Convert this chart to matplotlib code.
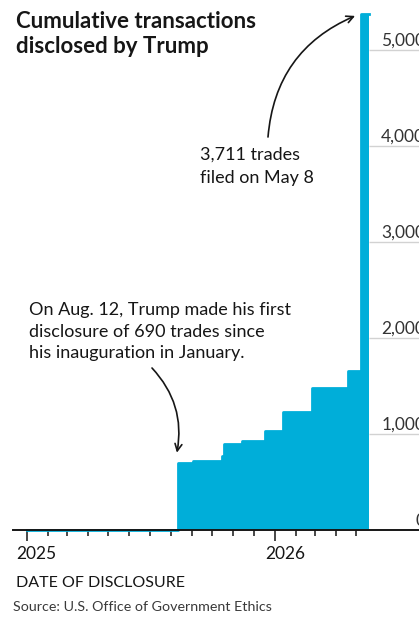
import matplotlib.pyplot as plt
import matplotlib.dates as mdates
import pandas as pd

plt.rcParams['font.family'] = ['Lato', 'DejaVu Sans']

# cumulative count of disclosed transactions, step changes on each filing date
disclosure_dates = pd.to_datetime([
    "2025-01-01", "2025-08-12", "2025-09-02", "2025-10-15", "2025-10-18",
    "2025-11-13", "2025-12-17", "2026-01-13", "2026-02-25", "2026-04-19",
    "2026-05-08",
])
cumulative_trades = [0, 690, 712, 765, 890, 920, 1028, 1220, 1475, 1655, 5366]
data_through = pd.Timestamp("2026-05-19")

y_ticks = [0, 1000, 2000, 3000, 4000, 5000]
y_tick_labels = ["0", "1,000", "2,000", "3,000", "4,000", "5,000"]
year_ticks = pd.to_datetime(["2025-01-01", "2026-01-01"])
year_labels = ["2025", "2026"]
month_ticks = pd.date_range("2025-01-01", "2026-05-01", freq="MS")

blue = "#00aed9"
ink = "#161616"

W, H = 419, 623
fig = plt.figure(figsize=(W / 100, H / 100), dpi=100)
base_px = 529.5
ax = fig.add_axes([13 / W, (H - base_px) / H, 406 / W, base_px / H])

# step area
xs = list(disclosure_dates) + [data_through]
ys = cumulative_trades + [cumulative_trades[-1]]
ax.fill_between(xs, ys, step="post", color=blue, lw=0, zorder=2)
ax.step(xs, ys, where="post", color=blue, lw=2, zorder=2, clip_on=False)

x0 = mdates.date2num(pd.Timestamp("2024-12-12"))
ax.set_xlim(x0, x0 + 597)
ax.set_ylim(0, base_px / 0.096)

# gridlines only to the right of the data
ax.hlines(y_ticks[1:], mdates.date2num(data_through), x0 + 597,
          color="#d2d2d2", lw=1, zorder=0)

for s in ["top", "left", "right"]:
    ax.spines[s].set_visible(False)
ax.spines["bottom"].set_linewidth(1.4)
ax.spines["bottom"].set_color(ink)
ax.spines["bottom"].set_zorder(3)

ax.set_yticks([])
ax.set_xticks(year_ticks)
ax.set_xticklabels([])
ax.set_xticks(month_ticks, minor=True)
ax.tick_params(axis="x", which="major", direction="out", length=8, width=1.1, color=ink)
ax.tick_params(axis="x", which="minor", direction="out", length=4, width=1.1, color=ink)

for d, lab in zip(year_ticks, year_labels):
    ax.annotate(lab, xy=(d, 0), xycoords=("data", "axes fraction"),
                xytext=(-10, -29.5), textcoords="offset pixels",
                ha="left", va="baseline", fontsize=12.5, color=ink,
                annotation_clip=False)

# value labels sit at the right edge, partly cut off as in the original
for v, lab in zip(y_ticks, y_tick_labels):
    ax.annotate(lab, xy=(1, v), xycoords=("axes fraction", "data"),
                xytext=(6, 4), textcoords="offset pixels",
                ha="right", va="baseline", fontsize=12.5, color="#333333",
                annotation_clip=False)

def lines(x, baselines, texts, **kw):
    for b, t in zip(baselines, texts):
        fig.text(x / W, 1 - b / H, t, va="baseline", ha="left", **kw)

lines(16, [28.3, 53], ["Cumulative transactions", "disclosed by Trump"],
      fontsize=16, fontweight="bold", color=ink)
lines(200, [160, 183], ["3,711 trades", "filed on May 8"], fontsize=13, color=ink)
lines(29, [315, 337, 358], ["On Aug. 12, Trump made his first",
                            "disclosure of 690 trades since",
                            "his inauguration in January."], fontsize=13, color=ink)
lines(16, [587], ["DATE OF DISCLOSURE"], fontsize=11.5, color=ink)
lines(13, [611], ["Source: U.S. Office of Government Ethics"], fontsize=10.3, color="#3a3a3a")

arrow = dict(arrowstyle="->,head_length=0.5,head_width=0.25", color=ink, lw=1.2,
             shrinkA=0, shrinkB=0)
ax.annotate("", xy=(pd.Timestamp("2026-04-29"), 5350), xycoords="data",
            xytext=(268, H - 137), textcoords="figure pixels",
            arrowprops=dict(arrow, connectionstyle="arc3,rad=-0.3"))
ax.annotate("", xy=(pd.Timestamp("2025-08-10"), 800), xycoords="data",
            xytext=(152, H - 368), textcoords="figure pixels",
            arrowprops=dict(arrow, connectionstyle="arc3,rad=-0.25"))

fig.savefig("out.png", dpi=100)
